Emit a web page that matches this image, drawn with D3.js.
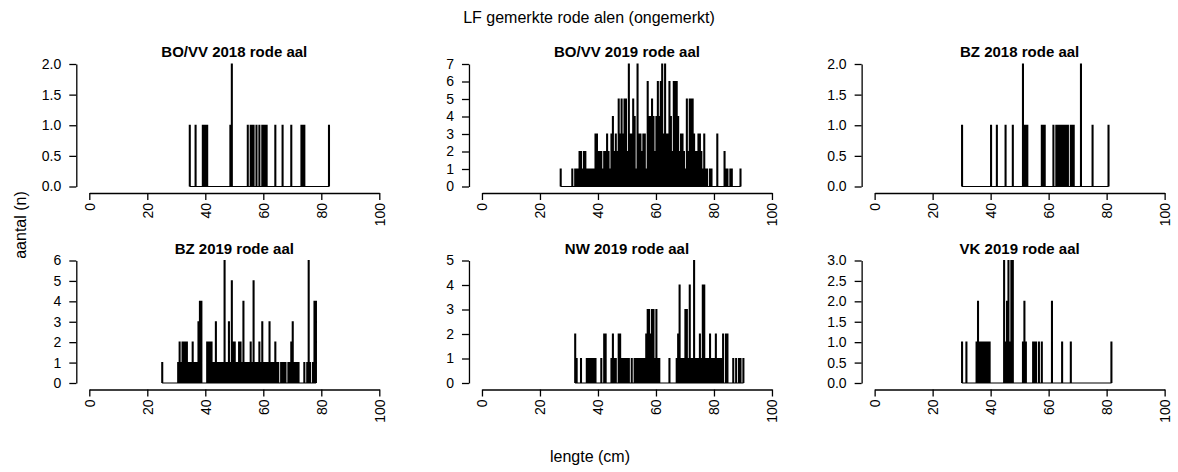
<!DOCTYPE html>
<html>
<head>
<meta charset="utf-8">
<script src="https://cdn.jsdelivr.net/npm/d3@7"></script>
<style>
  body { margin: 0; background: #fff; }
  text { font-family: "Liberation Sans", Arial, sans-serif; fill: #000; }
</style>
</head>
<body>
<svg id="chart" width="1178" height="472"></svg>
<script>
// panel titles and y-axis maxima
const titles = ["BO/VV 2018 rode aal", "BO/VV 2019 rode aal", "BZ 2018 rode aal",
                "BZ 2019 rode aal", "NW 2019 rode aal", "VK 2019 rode aal"];
const yMax = [2, 7, 2, 6, 5, 3];
const yStep = [0.5, 1, 0.5, 1, 1, 0.5];
const xTicks = [0, 20, 40, 60, 80, 100];

// measured lengths (cm) with their count; lengths without fish are left out
const bovv2018 = [[34.5,1],[36.5,1],[39,1],[39.5,1],[40,1],[40.5,1],[48.5,1],[49,2],[54.5,1],
  [55.5,1],[56,1],[56.5,1],[57.5,1],[58.5,1],[59.5,1],[60,1],[60.5,1],[61,1],[64,1],[66.5,1],
  [69.5,1],[73,1],[73.5,1],[74,1],[82.5,1]];

const bovv2019 = [[27,1],[31,1],[32,1],[32.5,1],[33,1],[33.5,2],[34,2],[34.5,1],[35,2],[35.5,2],
  [36,1],[36.5,1],[37,1],[37.5,1],[38,1],[38.5,1],[39,3],[39.5,3],[40,2],[40.5,2],[41,2],
  [41.5,1],[42,2],[42.5,2],[43,3],[43.5,2],[44,1],[44.5,3],[45,4],[45.5,2],[46,3],[46.5,2],
  [47,5],[47.5,3],[48,5],[48.5,3],[49,5],[49.5,5],[50,2],[50.5,7],[51,3],[51.5,3],[52,5],
  [52.5,4],[53,1],[53.5,7],[54,3],[54.5,3],[55,2],[55.5,3],[56,3],[56.5,1],[57,6],[57.5,4],
  [58,4],[58.5,5],[59,4],[59.5,2],[60,4],[60.5,6],[61,4],[61.5,6],[62,7],[62.5,3],[63,7],
  [63.5,3],[64,3],[64.5,6],[65,4],[65.5,2],[66,6],[66.5,6],[67,6],[67.5,4],[68,2],[68.5,3],
  [69,3],[69.5,2],[70,1],[70.5,5],[71,2],[71.5,5],[72,5],[72.5,5],[73,3],[73.5,2],[74,2],
  [74.5,3],[75,3],[75.5,2],[76,1],[76.5,3],[77,1],[77.5,1],[78.5,1],[79,1],[81,3],[83.5,2],
  [84,1],[84.5,1],[85.5,1],[86,1],[89,1]];

const bz2018 = [[30,1],[40,1],[42,1],[45,1],[47.5,1],[51,2],[51.5,1],[52,1],[52.5,1],[57.5,1],
  [58,1],[58.5,1],[61.5,1],[62.5,1],[63,1],[63.5,1],[64,1],[64.5,1],[65,1],[65.5,1],[66,1],
  [66.5,1],[67.5,1],[68,1],[68.5,1],[71,2],[75,1],[80.5,1]];

const bz2019 = [[25,1],[30.5,1],[31,2],[31.5,1],[32,2],[32.5,2],[33,2],[33.5,2],[34,1],[34.5,1],
  [35,1],[35.5,2],[36,1],[36.5,1],[37,1],[37.5,3],[38,4],[38.5,4],[40.5,2],[41,2],[41.5,2],
  [42,2],[42.5,1],[43,1],[43.5,3],[44,1],[44.5,1],[45,1],[45.5,1],[46,1],[46.5,6],[47,1],
  [47.5,1],[48,3],[48.5,1],[49,5],[49.5,2],[50,2],[50.5,1],[51,1],[51.5,2],[52,2],[52.5,1],
  [53,4],[53.5,1],[54,1],[54.5,1],[55,1],[55.5,2],[56,1],[56.5,5],[57,1],[57.5,1],[58,1],
  [58.5,2],[59,1],[59.5,3],[60,1],[60.5,1],[61,1],[61.5,1],[62,3],[62.5,1],[63,1],[63.5,1],
  [64,2],[64.5,1],[65,1],[66,1],[66.5,1],[67,1],[67.5,1],[68.5,1],[69,1],[69.5,2],[70,3],
  [70.5,1],[71,1],[71.5,1],[72,1],[74,1],[75,1],[75.5,6],[76,1],[77,1],[77.5,4],[78,4]];

const nw2019 = [[32,2],[32.5,1],[34,1],[36,1],[36.5,1],[37,1],[37.5,1],[38,1],[38.5,1],[39,1],
  [41,1],[42,2],[42.5,2],[44.5,1],[45,2],[45.5,1],[46,1],[47,2],[47.5,2],[48,1],[48.5,1],
  [49,1],[49.5,1],[50,1],[50.5,1],[51.5,1],[52.5,1],[53,1],[53.5,1],[54,1],[54.5,1],[55,1],
  [55.5,1],[56,1],[56.5,2],[57,3],[57.5,3],[58,2],[58.5,3],[59,3],[59.5,1],[60,3],[60.5,1],
  [61,1],[64.5,1],[67,1],[67.5,2],[68,4],[68.5,1],[69,1],[69.5,1],[70,3],[70.5,3],[71,1],
  [71.5,4],[72,1],[72.5,1],[73,5],[73.5,1],[74,1],[74.5,1],[75,2],[75.5,1],[76,4],[76.5,4],
  [77,1],[77.5,1],[78,1],[78.5,2],[79,1],[79.5,1],[80,1],[80.5,2],[81,1],[81.5,1],[82,1],
  [82.5,1],[83,2],[84,2],[84.5,2],[86.5,1],[87.5,1],[88.5,1],[89,1],[90,1]];

const vk2019 = [[30,1],[31.5,1],[35,1],[35.5,2],[36,1],[36.5,1],[37,1],[37.5,1],[38,1],[38.5,1],
  [39,1],[39.5,1],[44.5,3],[45,1],[45.5,2],[46,3],[46.5,1],[47,3],[47.5,3],[51,1],[51.5,2],
  [52,1],[54.5,1],[55,1],[55.5,1],[56.5,1],[57.5,1],[61,2],[64.5,1],[67.5,1],[81.5,1]];

const panelData = [bovv2018, bovv2019, bz2018, bz2019, nw2019, vk2019];

const svg = d3.select("#chart");

// layout of the 2 x 3 grid
const colWidth = 1178 / 3;
const rowTop = [64, 260.5];      // pixel y of the y maximum
const plotH = 122.5;
const axisGap = 6.5;             // x-axis line sits below y = 0
const spikeW = 0.3;              // width (cm) of one length class spike

// main title and shared axis labels
svg.append("text")
  .attr("x", 589).attr("y", 23)
  .attr("text-anchor", "middle")
  .style("font-size", "16px")
  .text("LF gemerkte rode alen (ongemerkt)");

svg.append("text")
  .attr("transform", "translate(26, 225) rotate(-90)")
  .attr("text-anchor", "middle")
  .style("font-size", "16px")
  .text("aantal (n)");

svg.append("text")
  .attr("x", 590).attr("y", 462)
  .attr("text-anchor", "middle")
  .style("font-size", "16px")
  .text("lengte (cm)");

panelData.forEach((data, i) => {
  const col = i % 3, row = Math.floor(i / 3);
  const x0 = 89.3 + col * colWidth;

  const x = d3.scaleLinear().domain([0, 100]).range([x0, x0 + 290]);
  const y = d3.scaleLinear().domain([0, yMax[i]]).range([rowTop[row] + plotH, rowTop[row]]);

  // each length goes up to its count and back to zero
  const series = [];
  data.forEach(([len, n]) => {
    series.push([len, 0], [len, n], [len + spikeW, n], [len + spikeW, 0]);
  });

  const g = svg.append("g");

  g.append("path")
    .datum(series)
    .attr("fill", "none")
    .attr("stroke", "#000")
    .attr("stroke-width", 1.2)
    .attr("d", d3.line()
      .x(d => x(d[0]))
      .y(d => y(d[1])));

  // y axis
  const yTicks = d3.range(0, yMax[i] + 1e-9, yStep[i]);
  const yAxis = g.append("g")
    .attr("transform", `translate(${x0 - 13}, 0)`)
    .call(d3.axisLeft(y)
      .tickValues(yTicks)
      .tickSize(7)
      .tickSizeOuter(0)
      .tickPadding(8)
      .tickFormat(yStep[i] < 1 ? d3.format(".1f") : d3.format("d")));
  yAxis.selectAll("text")
    .style("font-size", "14px")
    .style("font-family", "\"Liberation Sans\", Arial, sans-serif");

  // x axis with vertical tick labels
  const xAxis = g.append("g")
    .attr("transform", `translate(0, ${rowTop[row] + plotH + axisGap})`)
    .call(d3.axisBottom(x)
      .tickValues(xTicks)
      .tickSize(7)
      .tickSizeOuter(0));
  xAxis.selectAll("text")
    .attr("transform", "rotate(-90)")
    .attr("text-anchor", "end")
    .attr("x", -10)
    .attr("y", 0)
    .attr("dy", "0.35em")
    .style("font-size", "14px")
    .style("font-family", "\"Liberation Sans\", Arial, sans-serif");

  g.selectAll(".domain, .tick line")
    .attr("stroke", "#000")
    .attr("stroke-width", 1.3);

  // panel title
  g.append("text")
    .attr("x", x(50))
    .attr("y", rowTop[row] - 7)
    .attr("text-anchor", "middle")
    .style("font-size", "15px")
    .style("font-weight", "bold")
    .text(titles[i]);
});
</script>
</body>
</html>
